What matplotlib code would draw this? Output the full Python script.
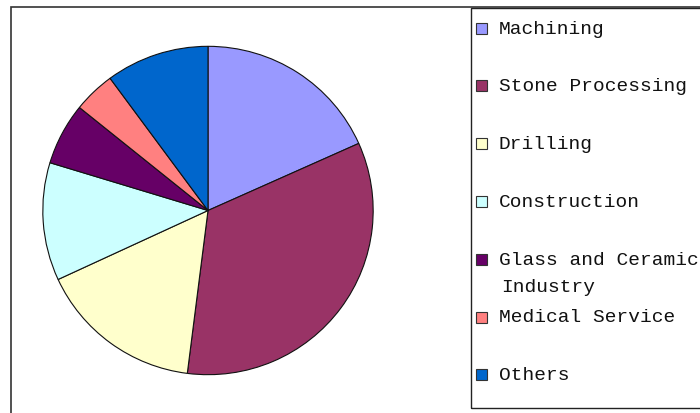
import matplotlib
matplotlib.use("Agg")
import matplotlib.pyplot as plt
from matplotlib.patches import Rectangle

categories = [
    "Machining",
    "Stone Processing",
    "Drilling",
    "Construction",
    "Glass and Ceramic\nIndustry",
    "Medical Service",
    "Others",
]
shares = [18.3, 33.7, 16.1, 11.6, 6.1, 4.1, 10.1]
colors = ["#9999FF", "#993366", "#FFFFCC", "#CCFFFF", "#660066", "#FF8080", "#0066CC"]

W, H = 700, 414
fig = plt.figure(figsize=(W / 100, H / 100), dpi=100)
fig.patch.set_facecolor("white")


def fx(px):
    return px / W


def fy(py):
    return 1 - py / H


# outer chart frame (right and bottom edges run off the picture)
fig.patches.append(Rectangle((fx(11), fy(430)), fx(720 - 11), (430 - 8) / H,
                             transform=fig.transFigure, fill=False,
                             edgecolor="#333333", linewidth=1.2))

# pie
cx, cy, rx, ry = 208, 211.5, 166, 165
ax = fig.add_axes([fx(cx - rx), fy(cy + ry), 2 * rx / W, 2 * ry / H])
ax.pie(shares, colors=colors, startangle=90, counterclock=False, radius=1,
       wedgeprops=dict(edgecolor="#111111", linewidth=0.8))
ax.set_xlim(-1.005, 1.005)
ax.set_ylim(-1.005, 1.005)
ax.set_aspect("auto")
ax.axis("off")

# legend box
fig.patches.append(Rectangle((fx(471), fy(409)), fx(740 - 471), (409 - 9) / H,
                             transform=fig.transFigure, fill=False,
                             edgecolor="#222222", linewidth=1.0))

font = dict(family=["Liberation Mono", "DejaVu Sans Mono"], size=14, color="#111111")
sq = 11
for i, (label, color) in enumerate(zip(categories, colors)):
    yc = 29 + 57.8 * i
    fig.patches.append(Rectangle((fx(476), fy(yc + sq / 2)), sq / W, sq / H,
                                 transform=fig.transFigure, facecolor=color,
                                 edgecolor="#333333", linewidth=0.8))
    for j, line in enumerate(label.split("\n")):
        x0 = 499 if j == 0 else 501
        fig.text(fx(x0), fy(yc + 27 * j), line, va="center", ha="left", **font)

fig.savefig("out.png", dpi=100, facecolor="white")
